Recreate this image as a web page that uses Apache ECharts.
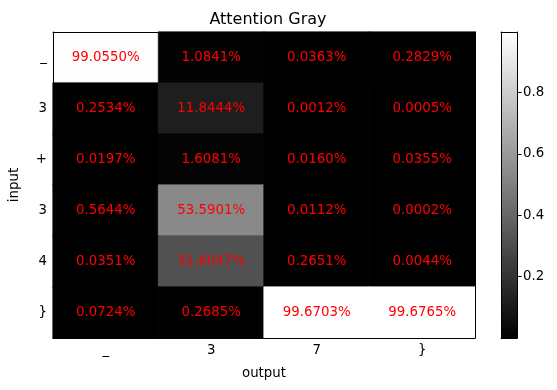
<!DOCTYPE html>
<html><head><meta charset="utf-8">
<script src="https://cdn.jsdelivr.net/npm/echarts@6/dist/echarts.min.js"></script>
<style>html,body{margin:0;padding:0;background:#fff}#c{width:557px;height:390px}</style>
</head><body><div id="c"></div>
<script>
const outputCats = ['_', '3', '7', '}'];
const inputCats = ['_', '3', '+', '3', '4', '}'];
// percentages, rows = input, cols = output
const row0 = [99.0550, 1.0841, 0.0363, 0.2829];
const row1 = [0.2534, 11.8444, 0.0012, 0.0005];
const row2 = [0.0197, 1.6081, 0.0160, 0.0355];
const row3 = [0.5644, 53.5901, 0.0112, 0.0002];
const row4 = [0.0351, 31.6047, 0.2651, 0.0044];
const row5 = [0.0724, 0.2685, 99.6703, 99.6765];
const rows = [row0, row1, row2, row3, row4, row5];
const colorbarTicks = [0.2, 0.4, 0.6, 0.8];

let vmin = Infinity, vmax = -Infinity;
rows.forEach(r => r.forEach(p => { vmin = Math.min(vmin, p / 100); vmax = Math.max(vmax, p / 100); }));
function gray(f) {
  const g = Math.round(255 * (f - vmin) / (vmax - vmin));
  return 'rgb(' + g + ',' + g + ',' + g + ')';
}
const data = [];
rows.forEach((r, yi) => r.forEach((p, xi) => {
  const f = p / 100, c = gray(f);
  data.push({value: [xi, yi, f, p], itemStyle: {color: c, borderColor: c, borderWidth: 0.6}});
}));

const font = 'DejaVu Sans';
const chart = echarts.init(document.getElementById('c'), null, {renderer: 'canvas'});
chart.setOption({
  animation: false,
  title: {text: 'Attention Gray', left: 263, top: 7, textAlign: 'center',
    textStyle: {fontFamily: font, fontSize: 16, fontWeight: 'normal', color: '#000'}},
  grid: [
    {left: 51, right: 82, top: 32, bottom: 52},
    {left: 501, right: 40, top: 32, bottom: 52}
  ],
  xAxis: [
    {type: 'category', data: outputCats, gridIndex: 0, position: 'bottom', z: 5,
      name: 'output', nameLocation: 'middle', nameGap: 29,
      nameTextStyle: {fontFamily: font, fontSize: 13.33, color: '#000'},
      axisLine: {lineStyle: {color: '#000', width: 1}},
      axisTick: {alignWithLabel: true, length: 4.7, lineStyle: {color: '#000'}},
      axisLabel: {fontFamily: font, fontSize: 13.33, color: '#000', margin: 6},
      splitLine: {show: false}},
    {type: 'category', data: outputCats, gridIndex: 0, position: 'top', z: 5,
      axisLine: {lineStyle: {color: '#000', width: 1}}, axisTick: {show: false},
      axisLabel: {show: false}, splitLine: {show: false}},
    {type: 'category', data: [''], gridIndex: 1, position: 'bottom', z: 5,
      axisLine: {lineStyle: {color: '#000', width: 1}}, axisTick: {show: false},
      axisLabel: {show: false}},
    {type: 'category', data: [''], gridIndex: 1, position: 'top', z: 5,
      axisLine: {lineStyle: {color: '#000', width: 1}}, axisTick: {show: false},
      axisLabel: {show: false}}
  ],
  yAxis: [
    {type: 'category', data: inputCats, gridIndex: 0, inverse: true, position: 'left', z: 5,
      name: 'input', nameLocation: 'middle', nameGap: 32, nameRotate: 90,
      nameTextStyle: {fontFamily: font, fontSize: 13.33, color: '#000'},
      axisLine: {lineStyle: {color: '#000', width: 1}},
      axisTick: {alignWithLabel: true, length: 4.7, lineStyle: {color: '#000'}},
      axisLabel: {fontFamily: font, fontSize: 13.33, color: '#000', margin: 6},
      splitLine: {show: false}},
    {type: 'category', data: inputCats, gridIndex: 0, inverse: true, position: 'right', z: 5,
      axisLine: {lineStyle: {color: '#000', width: 1}}, axisTick: {show: false},
      axisLabel: {show: false}, splitLine: {show: false}},
    {type: 'value', gridIndex: 1, min: vmin, max: vmax, position: 'right', z: 5,
      axisLine: {show: true, lineStyle: {color: '#000', width: 1}},
      axisTick: {show: true, length: 4.7, customValues: colorbarTicks, lineStyle: {color: '#000'}},
      axisLabel: {fontFamily: font, fontSize: 13.33, color: '#000', margin: 6,
        customValues: colorbarTicks, formatter: v => v.toFixed(1)},
      splitLine: {show: false}},
    {type: 'value', gridIndex: 1, min: vmin, max: vmax, position: 'left', z: 5,
      axisLine: {show: true, lineStyle: {color: '#000', width: 1}},
      axisTick: {show: false}, axisLabel: {show: false}, splitLine: {show: false}}
  ],
  series: [
    {type: 'heatmap', xAxisIndex: 0, yAxisIndex: 0, data: data,
      label: {show: true, color: '#ff0000', fontFamily: font, fontSize: 13.33,
        formatter: p => p.data.value[3].toFixed(4) + '%'}},
    {type: 'bar', xAxisIndex: 2, yAxisIndex: 2, data: [vmax], barWidth: '100%',
      itemStyle: {color: new echarts.graphic.LinearGradient(0, 0, 0, 1,
        [{offset: 0, color: '#ffffff'}, {offset: 1, color: '#000000'}])},
      silent: true}
  ]
});
</script></body></html>
